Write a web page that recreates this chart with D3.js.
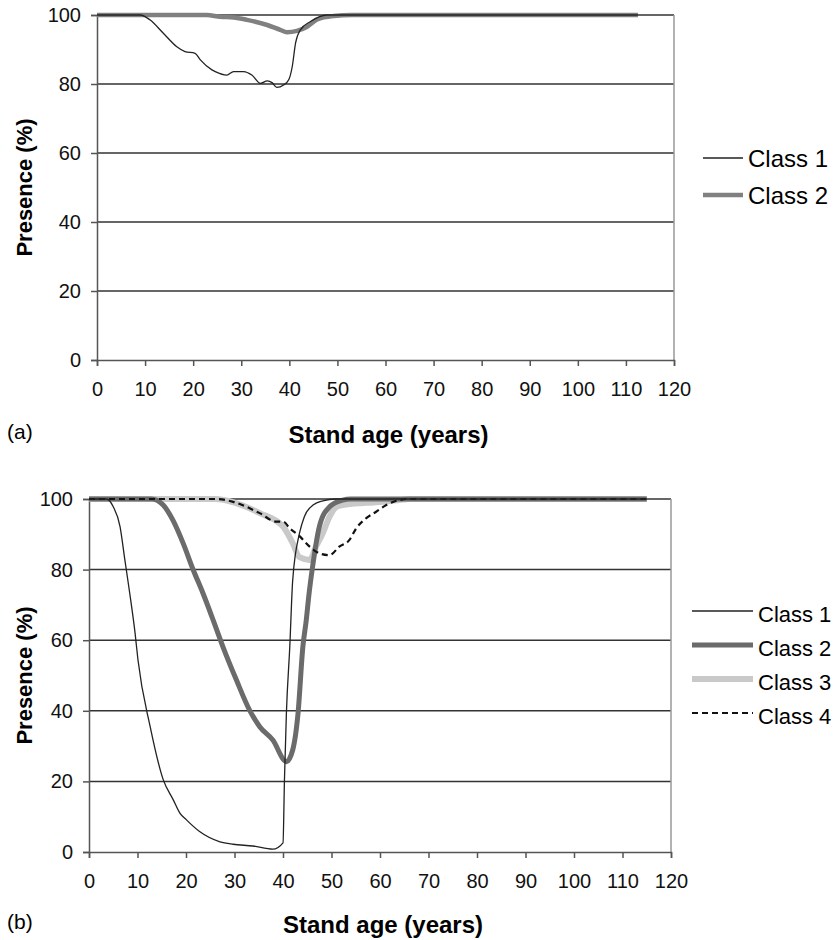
<!DOCTYPE html>
<html>
<head>
<meta charset="utf-8">
<script src="https://cdn.jsdelivr.net/npm/d3@7"></script>
<style>
body { margin: 0; background: #fff; }
svg { display: block; font-family: Arial, "Liberation Sans", Helvetica, sans-serif; }
.axis path, .axis line { stroke: #555; stroke-width: 1.5; }
.axis text { fill: #111; }
.grid line { stroke: #333; stroke-width: 1.5; }
</style>
</head>
<body>
<svg width="840" height="940"></svg>
<script>
// values: [stand age, presence %]
var ageTicks = [0, 10, 20, 30, 40, 50, 60, 70, 80, 90, 100, 110, 120];
var presenceTicks = [0, 20, 40, 60, 80, 100];

var aClass1 = [[0,100],[9,100],[11,98.6],[13.8,94.7],[16.6,90.8],[18.3,89.4],[20.4,88.9],[21.5,87],
	[23.9,84.1],[24.6,83.6],[27,82.6],[28.4,83.6],[30.5,83.6],[32.2,82.6],[34,80.2],[35.4,80.9],
	[36.4,80.4],[37.4,79],[38.8,79.7],[39.9,81.3],[40.6,85],[41.3,91.9],[42.3,95.7],[44.4,98.1],
	[47.8,100],[112.5,100]];
var aClass2 = [[0,100],[22.8,100],[25.6,99.5],[28.4,99.3],[31.2,98.6],[35.4,97.1],[38.1,95.7],
	[39.5,95],[41.6,95.4],[43.7,96.6],[45.8,98.7],[49.2,99.7],[53,100],[112.5,100]];

var bClass1 = [[0,100],[3.6,100],[5,97.8],[6.4,92.2],[7.4,82.7],[8.4,73.3],[9.5,62],[10.1,54.4],
	[12.6,35.6],[15.3,20.5],[17.4,14.7],[18.7,11.1],[20.1,9.1],[22.8,5.8],[27,2.9],[29.7,2.2],
	[33.8,1.7],[37.9,0.8],[40,2.6],[40.3,20.4],[40.7,39.3],[41.4,58.2],[42,77],[43.4,90.3],
	[44.4,95],[46.2,98.3],[48.2,99.5],[50.9,100],[115,100]];
var bClass2 = [[0,100],[12.9,100],[15.3,98.3],[17.3,94],[19.4,87.5],[21.5,79.9],[23.5,73.3],
	[25.6,65.7],[27.6,58.2],[30.4,48.7],[33.1,40.2],[35.2,35.5],[37.9,31.7],[40.7,25.6],[42,28.9],
	[43.1,39.3],[44.1,58.2],[44.8,65.7],[45.3,72.3],[46.2,81.8],[47.5,92.2],[49.6,97.8],[52.3,99.7],
	[54,100],[115,100]];
var bClass3 = [[0,100],[26,100],[30,99],[35.2,96],[40,92.2],[42,87.5],[43.4,83.5],[45.5,82.7],
	[46.8,86.5],[48.2,90.3],[49.6,95],[51,97.8],[52.3,98.3],[57.1,98.9],[60.6,99.2],[64,99.7],
	[66,100],[115,100]];
var bClass4 = [[0,100],[26.3,100],[29.7,99.2],[35.2,96],[38.6,93.6],[40,93.6],[41.4,91.7],
	[43.4,89.5],[45.5,86.5],[47.5,84.6],[49.6,84.1],[51.6,86.5],[53.7,88.4],[55.1,91.7],[57.1,94.5],
	[59.2,96.4],[61.3,98.3],[64,99.7],[65.3,100],[115,100]];

var svg = d3.select('svg');

var drawPanel = function(p) {
	var x = d3.scaleLinear().domain([0, 120]).range([p.left, p.right]);
	var y = d3.scaleLinear().domain([0, 100]).range([p.bottom, p.top]);
	var g = svg.append('g');

	// gridlines
	g.append('g').attr('class', 'grid')
		.selectAll('line').data(presenceTicks.filter(d => d > 0)).enter().append('line')
		.attr('x1', p.left).attr('x2', p.right)
		.attr('y1', d => y(d)).attr('y2', d => y(d));

	// right border
	g.append('line')
		.attr('x1', p.right).attr('x2', p.right)
		.attr('y1', p.top).attr('y2', p.bottom)
		.attr('stroke', '#999').attr('stroke-width', 1.5);

	g.append('g').attr('class', 'axis')
		.attr('transform', 'translate(0,' + p.bottom + ')')
		.call(d3.axisBottom(x).tickValues(ageTicks).tickSize(6).tickPadding(16))
		.call(s => s.selectAll('text').style('font-size', '20px'));
	g.append('g').attr('class', 'axis')
		.attr('transform', 'translate(' + p.left + ',0)')
		.call(d3.axisLeft(y).tickValues(presenceTicks).tickSize(6).tickPadding(p.ypad))
		.call(s => s.selectAll('text').style('font-size', '20px'));

	var line = d3.line().curve(d3.curveMonotoneX).x(d => x(d[0])).y(d => y(d[1]));

	g.selectAll('path.series').data(p.series).enter().append('path')
		.attr('class', 'series')
		.attr('d', d => line(d.values))
		.attr('fill', 'none')
		.attr('stroke', d => d.color)
		.attr('stroke-width', d => d.width)
		.attr('stroke-dasharray', d => d.dash || null)
		.attr('stroke-linejoin', 'round');

	// axis titles
	g.append('text')
		.attr('x', (p.left + p.right) / 2 + 3).attr('y', p.xTitleY)
		.attr('text-anchor', 'middle')
		.style('font-size', '24px').style('font-weight', 'bold')
		.text('Stand age (years)');
	g.append('text')
		.attr('transform', 'translate(32,' + ((p.top + p.bottom) / 2) + ') rotate(-90)')
		.attr('text-anchor', 'middle')
		.style('font-size', '22px').style('font-weight', 'bold')
		.text('Presence (%)');
	g.append('text')
		.attr('x', 7).attr('y', p.xTitleY - 4)
		.style('font-size', '21px')
		.text(p.tag);

	// legend, in class order
	var leg = g.selectAll('g.leg').data(p.legend).enter().append('g')
		.attr('transform', (d, i) => 'translate(0,' + (p.legY + i * p.legStep) + ')');
	leg.append('line')
		.attr('x1', p.legX1).attr('x2', p.legX2)
		.attr('stroke', d => d.color)
		.attr('stroke-width', d => d.width)
		.attr('stroke-dasharray', d => d.dash || null);
	leg.append('text')
		.attr('x', p.legX2 + 5).attr('y', p.legBase)
		.style('font-size', p.legFont)
		.text(d => d.name);
};

var c1 = {name: 'Class 1', color: '#222', width: 1.3};

var a2 = {name: 'Class 2', color: '#808080', width: 4.5};
drawPanel({
	left: 97, right: 674, top: 15, bottom: 360, ypad: 10, xTitleY: 443, tag: '(a)',
	series: [Object.assign({values: aClass2}, a2), Object.assign({values: aClass1}, c1)],
	legend: [c1, a2], legY: 158, legStep: 37, legX1: 703, legX2: 743, legBase: 9, legFont: '24px'
});

var b2 = {name: 'Class 2', color: '#6b6b6b', width: 5};
var b3 = {name: 'Class 3', color: '#c9c9c9', width: 6};
var b4 = {name: 'Class 4', color: '#111', width: 2.2, dash: '6,4'};
drawPanel({
	left: 89, right: 671, top: 499, bottom: 852, ypad: 10, xTitleY: 933, tag: '(b)',
	series: [Object.assign({values: bClass3}, b3), Object.assign({values: bClass2}, b2),
		Object.assign({values: bClass4}, b4), Object.assign({values: bClass1}, c1)],
	legend: [c1, b2, b3, b4], legY: 611, legStep: 34, legX1: 692, legX2: 753, legBase: 11, legFont: '22px'
});
</script>
</body>
</html>
